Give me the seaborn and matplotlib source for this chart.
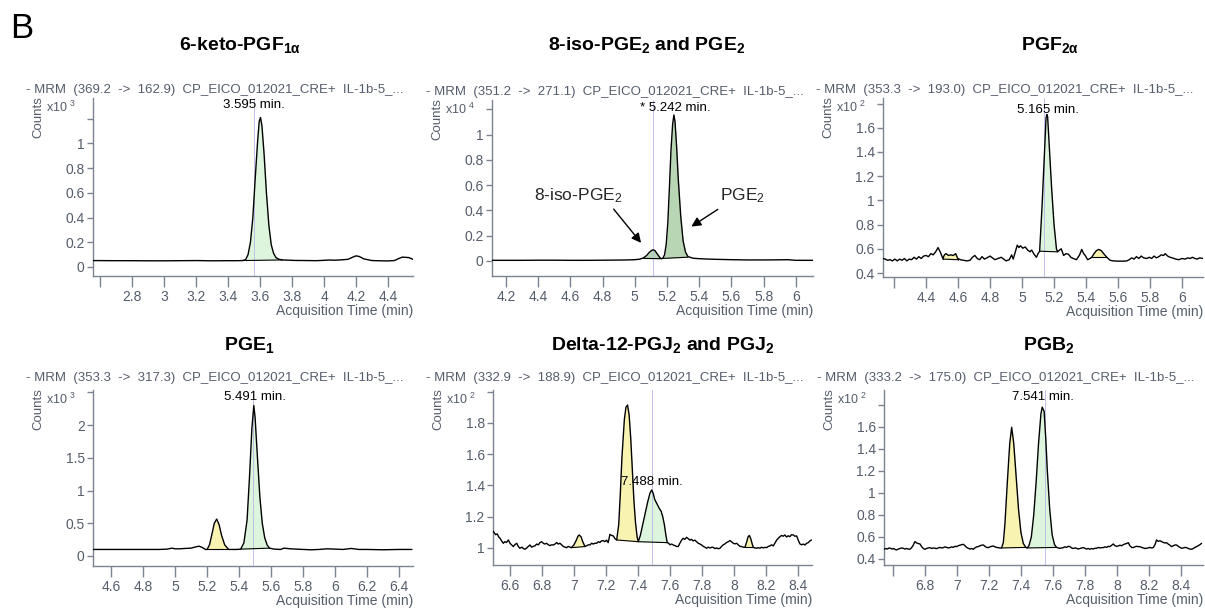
import numpy as np
import matplotlib
matplotlib.use("Agg")
import matplotlib.pyplot as plt
import seaborn as sns

# ---------------- DATA ----------------
titles = [r"6-keto-PGF$_{\mathbf{1α}}$",
          r"8-iso-PGE$_{\mathbf{2}}$ and PGE$_{\mathbf{2}}$",
          r"PGF$_{\mathbf{2α}}$",
          r"PGE$_{\mathbf{1}}$",
          r"Delta-12-PGJ$_{\mathbf{2}}$ and PGJ$_{\mathbf{2}}$",
          r"PGB$_{\mathbf{2}}$"]
headers = ["- MRM  (369.2  ->  162.9)  CP_EICO_012021_CRE+  IL-1b-5_...",
           "- MRM  (351.2  ->  271.1)  CP_EICO_012021_CRE+  IL-1b-5_...",
           "- MRM  (353.3  ->  193.0)  CP_EICO_012021_CRE+  IL-1b-5_...",
           "- MRM  (353.3  ->  317.3)  CP_EICO_012021_CRE+  IL-1b-5_...",
           "- MRM  (332.9  ->  188.9)  CP_EICO_012021_CRE+  IL-1b-5_...",
           "- MRM  (333.2  ->  175.0)  CP_EICO_012021_CRE+  IL-1b-5_..."]
exponents = [3, 4, 2, 3, 2, 2]
rt_labels = ["3.595 min.", "* 5.242 min.", "5.165 min.", "5.491 min.", "7.488 min.", "7.541 min."]
rt_marker = [3.56, 5.11, 5.135, 5.49, 7.49, 7.55]
rt_label_pos = [(3.56, 1.31), (5.25, 1.21), (5.16, 1.75), (5.50, 2.43), (7.49, 1.42), (7.54, 1.87)]

p1_time = [2.55, 2.7, 2.8, 2.9, 3.0, 3.1, 3.2, 3.3, 3.4, 3.46, 3.49, 3.51, 3.525, 3.54, 3.555, 3.57,
           3.585, 3.595, 3.603, 3.612, 3.625, 3.64, 3.655, 3.67, 3.685, 3.70, 3.72, 3.74, 3.78, 3.82,
           3.9, 3.95, 4.0, 4.03, 4.07, 4.1, 4.15, 4.18, 4.2, 4.22, 4.25, 4.3, 4.35, 4.4, 4.44, 4.47,
           4.49, 4.51, 4.53, 4.55, 4.56]
p1_counts = [0.052, 0.051, 0.051, 0.050, 0.050, 0.051, 0.052, 0.050, 0.051, 0.051, 0.052, 0.06, 0.10,
             0.20, 0.40, 0.72, 1.02, 1.18, 1.21, 1.14, 0.92, 0.60, 0.34, 0.18, 0.11, 0.075, 0.062, 0.057,
             0.055, 0.053, 0.052, 0.051, 0.054, 0.056, 0.055, 0.057, 0.062, 0.08, 0.09, 0.085, 0.065,
             0.052, 0.050, 0.049, 0.052, 0.07, 0.08, 0.078, 0.076, 0.065, 0.058]

p2_time = [4.11, 4.2, 4.3, 4.4, 4.5, 4.6, 4.7, 4.8, 4.9, 4.95, 5.0, 5.03, 5.055, 5.075, 5.09, 5.105,
           5.115, 5.125, 5.14, 5.155, 5.165, 5.175, 5.185, 5.195, 5.205, 5.215, 5.225, 5.235, 5.243,
           5.25, 5.26, 5.27, 5.285, 5.30, 5.315, 5.33, 5.36, 5.4, 5.45, 5.5, 5.6, 5.7, 5.8, 5.9, 5.95,
           6.0, 6.11]
p2_counts = [0.005, 0.005, 0.005, 0.006, 0.006, 0.005, 0.005, 0.006, 0.007, 0.008, 0.010, 0.014,
             0.025, 0.045, 0.068, 0.084, 0.088, 0.082, 0.055, 0.028, 0.018, 0.022, 0.05, 0.13, 0.30,
             0.58, 0.88, 1.08, 1.155, 1.10, 0.90, 0.65, 0.36, 0.16, 0.07, 0.035, 0.022, 0.018, 0.015,
             0.013, 0.010, 0.008, 0.008, 0.009, 0.010, 0.005, 0.005]

p3_time = [4.13, 4.145, 4.16, 4.175, 4.19, 4.205, 4.22, 4.235, 4.25, 4.265, 4.28, 4.295, 4.31, 4.325,
           4.34, 4.355, 4.37, 4.385, 4.40, 4.415, 4.43, 4.445, 4.46, 4.475, 4.49, 4.505, 4.515, 4.525,
           4.54, 4.555, 4.57, 4.585, 4.598, 4.615, 4.635, 4.655, 4.675, 4.69, 4.705, 4.72, 4.735, 4.75,
           4.765, 4.78, 4.80, 4.815, 4.83, 4.85, 4.87, 4.885, 4.90, 4.92, 4.935, 4.945, 4.955, 4.97,
           4.98, 4.99, 5.005, 5.02, 5.035, 5.05, 5.06, 5.075, 5.09, 5.10, 5.11, 5.125, 5.14, 5.15,
           5.155, 5.16, 5.17, 5.185, 5.20, 5.215, 5.222, 5.235, 5.245, 5.26, 5.275, 5.29, 5.305, 5.32,
           5.34, 5.36, 5.373, 5.385, 5.395, 5.41, 5.425, 5.436, 5.45, 5.465, 5.48, 5.495, 5.51, 5.53,
           5.55, 5.57, 5.60, 5.63, 5.655, 5.67, 5.685, 5.70, 5.715, 5.73, 5.745, 5.76, 5.78, 5.795,
           5.81, 5.825, 5.84, 5.855, 5.87, 5.885, 5.895, 5.91, 5.925, 5.94, 5.96, 5.98, 6.0, 6.02,
           6.035, 6.05, 6.065, 6.08, 6.095, 6.11, 6.13]
p3_counts = [0.52, 0.515, 0.505, 0.51, 0.50, 0.515, 0.50, 0.515, 0.505, 0.52, 0.50, 0.515, 0.51, 0.53,
             0.515, 0.535, 0.52, 0.54, 0.545, 0.535, 0.56, 0.55, 0.575, 0.61, 0.57, 0.52, 0.55, 0.56,
             0.545, 0.55, 0.545, 0.56, 0.52, 0.51, 0.505, 0.50, 0.505, 0.53, 0.545, 0.52, 0.51, 0.535,
             0.515, 0.525, 0.54, 0.525, 0.51, 0.52, 0.53, 0.515, 0.50, 0.51, 0.55, 0.515, 0.56, 0.63,
             0.61, 0.625, 0.605, 0.615, 0.59, 0.575, 0.59, 0.555, 0.53, 0.56, 0.58, 0.95, 1.40, 1.68,
             1.71, 1.69, 1.45, 1.10, 0.80, 0.60, 0.575, 0.59, 0.60, 0.545, 0.56, 0.555, 0.53, 0.52,
             0.51, 0.55, 0.595, 0.56, 0.545, 0.51, 0.52, 0.53, 0.56, 0.585, 0.595, 0.585, 0.56, 0.53,
             0.505, 0.50, 0.498, 0.498, 0.50, 0.51, 0.525, 0.515, 0.535, 0.52, 0.54, 0.525, 0.52, 0.53,
             0.52, 0.54, 0.525, 0.535, 0.55, 0.545, 0.56, 0.54, 0.53, 0.525, 0.515, 0.51, 0.52, 0.515,
             0.525, 0.52, 0.53, 0.52, 0.515, 0.525, 0.52]

p4_time = [4.49, 4.6, 4.7, 4.8, 4.9, 4.95, 4.98, 5.0, 5.03, 5.06, 5.1, 5.13, 5.15, 5.17, 5.19, 5.20,
           5.215, 5.23, 5.245, 5.26, 5.275, 5.29, 5.31, 5.335, 5.36, 5.385, 5.41, 5.43, 5.45, 5.465,
           5.48, 5.492, 5.50, 5.515, 5.53, 5.545, 5.56, 5.575, 5.59, 5.62, 5.66, 5.68, 5.72, 5.76,
           5.8, 5.85, 5.9, 5.95, 6.0, 6.05, 6.1, 6.15, 6.2, 6.3, 6.4, 6.48]
p4_counts = [0.10, 0.10, 0.10, 0.10, 0.10, 0.105, 0.12, 0.11, 0.11, 0.115, 0.12, 0.14, 0.15, 0.13,
             0.10, 0.10, 0.17, 0.33, 0.50, 0.565, 0.48, 0.32, 0.17, 0.10, 0.10, 0.10, 0.105, 0.20, 0.55,
             1.20, 1.95, 2.30, 2.12, 1.50, 0.90, 0.50, 0.28, 0.17, 0.12, 0.105, 0.10, 0.12, 0.11,
             0.105, 0.10, 0.095, 0.10, 0.11, 0.105, 0.10, 0.115, 0.10, 0.10, 0.095, 0.10, 0.10]

p5_time = [6.492, 6.50, 6.51, 6.52, 6.53, 6.538, 6.548, 6.558, 6.568, 6.578, 6.59, 6.60, 6.61, 6.621,
           6.63, 6.642, 6.652, 6.662, 6.675, 6.685, 6.694, 6.705, 6.715, 6.725, 6.735, 6.745, 6.756,
           6.767, 6.778, 6.788, 6.798, 6.808, 6.818, 6.829, 6.84, 6.85, 6.86, 6.871, 6.882, 6.892,
           6.902, 6.9125, 6.923, 6.933, 6.944, 6.954, 6.965, 6.975, 6.985, 7.00, 7.015, 7.025, 7.033,
           7.045, 7.055, 7.069, 7.08, 7.09, 7.10, 7.11, 7.12, 7.131, 7.142, 7.152, 7.162, 7.172,
           7.183, 7.193, 7.204, 7.214, 7.225, 7.235, 7.246, 7.256, 7.267, 7.28, 7.29, 7.30, 7.315,
           7.325, 7.335, 7.345, 7.355, 7.365, 7.375, 7.385, 7.395, 7.402, 7.415, 7.43, 7.445, 7.46,
           7.475, 7.486, 7.495, 7.505, 7.515, 7.525, 7.535, 7.545, 7.555, 7.565, 7.575, 7.583, 7.592,
           7.60, 7.61, 7.621, 7.631, 7.642, 7.652, 7.662, 7.673, 7.683, 7.693, 7.704, 7.714, 7.725,
           7.735, 7.745, 7.756, 7.767, 7.777, 7.788, 7.798, 7.808, 7.819, 7.829, 7.84, 7.85, 7.86,
           7.871, 7.881, 7.892, 7.902, 7.9125, 7.923, 7.933, 7.944, 7.954, 7.965, 7.975, 7.985, 7.996,
           8.006, 8.017, 8.027, 8.038, 8.048, 8.058, 8.069, 8.08, 8.088, 8.096, 8.105, 8.113, 8.121,
           8.131, 8.142, 8.152, 8.1625, 8.173, 8.183, 8.194, 8.204, 8.215, 8.225, 8.235, 8.246, 8.256,
           8.267, 8.277, 8.2875, 8.298, 8.308, 8.319, 8.329, 8.34, 8.35, 8.36, 8.371, 8.381, 8.392,
           8.402, 8.4125, 8.423, 8.433, 8.444, 8.454, 8.465, 8.475, 8.485]
p5_counts = [1.111, 1.10, 1.085, 1.09, 1.07, 1.062, 1.045, 1.03, 1.04, 1.035, 1.051, 1.03, 1.02, 1.009,
             1.02, 1.03, 1.01, 0.998, 1.005, 0.995, 0.992, 1.0, 1.01, 1.019, 1.005, 1.01, 1.013, 1.025,
             1.02, 1.035, 1.04, 1.03, 1.025, 1.03, 1.02, 1.015, 1.02, 1.019, 1.025, 1.035, 1.025, 1.03,
             1.02, 1.01, 1.005, 1.002, 1.01, 1.005, 1.002, 1.02, 1.05, 1.075, 1.083, 1.07, 1.04, 1.009,
             1.015, 1.02, 1.019, 1.03, 1.025, 1.03, 1.03, 1.04, 1.035, 1.045, 1.047, 1.04, 1.05, 1.034,
             1.087, 1.08, 1.077, 1.06, 1.051, 1.15, 1.35, 1.58, 1.82, 1.90, 1.914, 1.85, 1.70, 1.50, 1.30,
             1.16, 1.07, 1.040, 1.08, 1.15, 1.22, 1.29, 1.35, 1.371, 1.35, 1.31, 1.29, 1.27, 1.25, 1.235,
             1.20, 1.15, 1.08, 1.034, 1.03, 1.02, 1.025, 1.019, 1.015, 1.01, 1.009, 1.03, 1.05, 1.062,
             1.055, 1.068, 1.06, 1.05, 1.055, 1.045, 1.05, 1.04, 1.03, 1.025, 1.019, 1.01, 1.005, 0.998,
             1.005, 1.0, 1.004, 1.004, 0.996, 1.0, 0.995, 0.998, 1.01, 1.02, 1.026, 1.035, 1.04, 1.047,
             1.04, 1.03, 1.026, 1.03, 1.02, 1.01, 1.009, 1.005, 1.004, 1.04, 1.07, 1.08, 1.06, 1.03,
             1.004, 1.0, 0.998, 1.002, 0.998, 1.005, 1.0, 1.004, 1.002, 1.01, 1.013, 1.02, 1.013, 1.03,
             1.05, 1.062, 1.072, 1.08, 1.075, 1.083, 1.07, 1.078, 1.072, 1.085, 1.083, 1.075, 1.077,
             1.05, 1.026, 1.02, 1.025, 1.019, 1.03, 1.034, 1.045, 1.051]

p6_time = [6.544, 6.555, 6.565, 6.575, 6.585, 6.595, 6.605, 6.615, 6.623, 6.633, 6.643, 6.654, 6.664,
           6.675, 6.685, 6.696, 6.706, 6.715, 6.725, 6.7375, 6.748, 6.758, 6.769, 6.78, 6.79, 6.80,
           6.81, 6.82, 6.831, 6.842, 6.852, 6.862, 6.873, 6.883, 6.894, 6.904, 6.915, 6.925, 6.935,
           6.946, 6.956, 6.967, 6.977, 6.988, 6.998, 7.008, 7.019, 7.029, 7.04, 7.05, 7.06, 7.071,
           7.081, 7.092, 7.102, 7.112, 7.123, 7.133, 7.144, 7.154, 7.165, 7.175, 7.185, 7.196, 7.206,
           7.217, 7.227, 7.238, 7.248, 7.258, 7.268, 7.279, 7.29, 7.30, 7.315, 7.33, 7.342, 7.355,
           7.37, 7.385, 7.40, 7.415, 7.431, 7.439, 7.45, 7.465, 7.48, 7.495, 7.51, 7.525, 7.533,
           7.545, 7.555, 7.565, 7.58, 7.595, 7.61, 7.623, 7.633, 7.644, 7.654, 7.665, 7.675, 7.685,
           7.696, 7.706, 7.717, 7.727, 7.738, 7.748, 7.758, 7.769, 7.779, 7.79, 7.8, 7.81, 7.821,
           7.831, 7.842, 7.852, 7.862, 7.873, 7.883, 7.894, 7.904, 7.915, 7.925, 7.935, 7.946, 7.956,
           7.967, 7.977, 7.988, 7.998, 8.008, 8.019, 8.029, 8.04, 8.05, 8.06, 8.071, 8.081, 8.092,
           8.102, 8.112, 8.123, 8.133, 8.144, 8.154, 8.165, 8.175, 8.185, 8.196, 8.206, 8.217, 8.227,
           8.238, 8.248, 8.258, 8.269, 8.279, 8.29, 8.3, 8.31, 8.321, 8.331, 8.342, 8.352, 8.363,
           8.373, 8.383, 8.394, 8.404, 8.415, 8.425, 8.435, 8.446, 8.456, 8.467, 8.477, 8.488, 8.498,
           8.508, 8.519, 8.529]
p6_counts = [0.488, 0.495, 0.49, 0.50, 0.497, 0.49, 0.495, 0.485, 0.482, 0.49, 0.495, 0.50, 0.497,
             0.49, 0.495, 0.49, 0.488, 0.50, 0.52, 0.558, 0.545, 0.54, 0.536, 0.51, 0.495, 0.488, 0.495,
             0.50, 0.503, 0.495, 0.50, 0.497, 0.494, 0.50, 0.505, 0.50, 0.503, 0.51, 0.505, 0.50, 0.503,
             0.51, 0.505, 0.515, 0.512, 0.52, 0.525, 0.53, 0.533, 0.52, 0.505, 0.497, 0.49, 0.495,
             0.488, 0.50, 0.51, 0.512, 0.52, 0.525, 0.527, 0.515, 0.505, 0.503, 0.51, 0.515, 0.518,
             0.51, 0.505, 0.503, 0.50, 0.50, 0.55, 0.72, 1.10, 1.45, 1.597, 1.45, 1.15, 0.85, 0.64,
             0.54, 0.505, 0.50, 0.52, 0.60, 0.80, 1.10, 1.45, 1.72, 1.78, 1.74, 1.50, 1.20, 0.85, 0.62,
             0.53, 0.505, 0.50, 0.497, 0.50, 0.503, 0.51, 0.505, 0.515, 0.512, 0.50, 0.495, 0.50,
             0.497, 0.49, 0.495, 0.50, 0.503, 0.497, 0.49, 0.495, 0.488, 0.495, 0.49, 0.497, 0.497,
             0.505, 0.50, 0.503, 0.503, 0.51, 0.505, 0.515, 0.512, 0.525, 0.536, 0.52, 0.515, 0.518,
             0.525, 0.52, 0.53, 0.536, 0.54, 0.548, 0.52, 0.505, 0.503, 0.51, 0.515, 0.512, 0.512,
             0.505, 0.50, 0.495, 0.497, 0.50, 0.505, 0.50, 0.503, 0.53, 0.573, 0.56, 0.565, 0.558,
             0.55, 0.545, 0.548, 0.535, 0.525, 0.512, 0.52, 0.527, 0.527, 0.515, 0.505, 0.497, 0.50,
             0.505, 0.503, 0.495, 0.49, 0.488, 0.495, 0.505, 0.512, 0.52, 0.53, 0.542]

# integrated peaks: (start, end, baseline at start, baseline at end, kind)
p1_peaks = [(3.49, 3.74, 0.052, 0.057, "green")]
p2_peaks = [(5.055, 5.165, 0.02, 0.018, "dark"), (5.175, 5.33, 0.02, 0.03, "dark")]
p3_peaks = [(4.505, 4.598, 0.515, 0.51, "yellow"), (5.11, 5.222, 0.58, 0.575, "green"),
            (5.436, 5.53, 0.53, 0.53, "yellow")]
p4_peaks = [(5.20, 5.335, 0.10, 0.10, "yellow"), (5.41, 5.59, 0.105, 0.12, "green")]
p5_peaks = [(6.985, 7.069, 1.002, 1.009, "yellow"), (7.267, 7.402, 1.051, 1.040, "yellow"),
            (7.402, 7.583, 1.040, 1.034, "green"), (8.069, 8.121, 1.004, 1.004, "yellow")]
p6_peaks = [(7.279, 7.431, 0.50, 0.505, "yellow"), (7.439, 7.623, 0.50, 0.505, "green")]

p1_xticks = [2.6, 2.8, 3.0, 3.2, 3.4, 3.6, 3.8, 4.0, 4.2, 4.4]
p2_xticks = [4.2, 4.4, 4.6, 4.8, 5.0, 5.2, 5.4, 5.6, 5.8, 6.0]
p3_xticks = [4.2, 4.4, 4.6, 4.8, 5.0, 5.2, 5.4, 5.6, 5.8, 6.0]
p4_xticks = [4.6, 4.8, 5.0, 5.2, 5.4, 5.6, 5.8, 6.0, 6.2, 6.4]
p5_xticks = [6.6, 6.8, 7.0, 7.2, 7.4, 7.6, 7.8, 8.0, 8.2, 8.4]
p6_xticks = [6.6, 6.8, 7.0, 7.2, 7.4, 7.6, 7.8, 8.0, 8.2, 8.4]
p1_yticks = [0, 0.2, 0.4, 0.6, 0.8, 1.0, 1.2]
p2_yticks = [0, 0.2, 0.4, 0.6, 0.8, 1.0, 1.2]
p3_yticks = [0.4, 0.6, 0.8, 1.0, 1.2, 1.4, 1.6, 1.8]
p4_yticks = [0, 0.5, 1.0, 1.5, 2.0, 2.5]
p5_yticks = [1.0, 1.2, 1.4, 1.6, 1.8, 2.0]
p6_yticks = [0.4, 0.6, 0.8, 1.0, 1.2, 1.4, 1.6, 1.8]
unlabeled_xtick = [2.6, None, 4.2, None, None, 6.6]

# ---------------- LAYOUT / STYLE ----------------
W, H = 1205, 608
axes_px = [(93, 98, 413, 276), (492, 100, 813, 276), (883, 98, 1203, 277),
           (93, 390, 413, 566), (493, 390, 812, 565), (884, 390, 1203, 565)]
xlims = [(2.556, 4.556), (4.113, 6.107), (4.131, 6.131), (4.487, 6.487), (6.494, 8.488), (6.544, 8.538)]
ylims = [(-0.073, 1.368), (-0.119, 1.273), (0.367, 1.846), (-0.153, 2.538), (0.891, 2.01), (0.345, 1.936)]
title_px = [(240, 45), (647, 45), (1050, 45), (249, 345), (663, 345), (1049, 345)]

GREY = "#555d6b"
SPINE = "#7d8491"
FILLS = {"green": "#dcf5dc", "dark": "#b9d6b4", "yellow": "#f8f3b0"}

sns.set_style("ticks")
plt.rcParams["font.family"] = ["Liberation Sans", "DejaVu Sans"]
plt.rcParams["mathtext.fontset"] = "custom"
plt.rcParams["mathtext.rm"] = "Liberation Sans"
plt.rcParams["mathtext.it"] = "Liberation Sans:italic"
plt.rcParams["mathtext.bf"] = "Liberation Sans:bold"

fig = plt.figure(figsize=(W / 100, H / 100), dpi=100)
fig.text(10 / W, 1 - 38 / H, "B", fontsize=25, ha="left", va="baseline", color="black")

times = [p1_time, p2_time, p3_time, p4_time, p5_time, p6_time]
counts = [p1_counts, p2_counts, p3_counts, p4_counts, p5_counts, p6_counts]
peaks = [p1_peaks, p2_peaks, p3_peaks, p4_peaks, p5_peaks, p6_peaks]
xticks = [p1_xticks, p2_xticks, p3_xticks, p4_xticks, p5_xticks, p6_xticks]
yticks = [p1_yticks, p2_yticks, p3_yticks, p4_yticks, p5_yticks, p6_yticks]

for i in range(6):
    l, t, r, b = axes_px[i]
    ax = fig.add_axes([l / W, 1 - b / H, (r - l) / W, (b - t) / H])
    x = np.array(times[i])
    y = np.array(counts[i])

    for (s, e, bs, be, kind) in peaks[i]:
        m = (x >= s) & (x <= e)
        xs = x[m]
        base = bs + (be - bs) * (xs - s) / (e - s)
        ax.fill_between(xs, base, y[m], color=FILLS[kind], lw=0, zorder=1)
        ax.plot([xs[0], xs[-1]], [base[0], base[-1]], color="black", lw=0.8, zorder=3)
        ax.plot([xs[0], xs[0]], [base[0], y[m][0]], color="black", lw=0.6, zorder=3)
        ax.plot([xs[-1], xs[-1]], [base[-1], y[m][-1]], color="black", lw=0.6, zorder=3)

    ax.axvline(rt_marker[i], color="#b6b6e6", lw=0.6, zorder=2)
    sns.lineplot(x=x, y=y, ax=ax, color="black", linewidth=1.0, sort=False,
                 estimator=None, zorder=4)

    ax.set_xlim(*xlims[i])
    ax.set_ylim(*ylims[i])
    ax.set_xlabel("")
    ax.set_ylabel("")
    for sp in ["top", "right"]:
        ax.spines[sp].set_visible(False)
    for sp in ["left", "bottom"]:
        ax.spines[sp].set_color(SPINE)
        ax.spines[sp].set_linewidth(1.0)

    ax.set_xticks(xticks[i])
    ax.set_xticklabels(["" if v == unlabeled_xtick[i] else "%g" % v for v in xticks[i]])
    ax.set_yticks(yticks[i])
    ax.set_yticklabels(["%g" % v for v in yticks[i][:-1]] + [""])
    ax.tick_params(axis="x", length=8, width=1, color=SPINE, labelcolor=GREY, labelsize=10, pad=2)
    ax.tick_params(axis="y", length=4, width=1, color=SPINE, labelcolor=GREY, labelsize=10, pad=2)

    # exponent, axis titles, header
    ax.annotate("x10 $^{%d}$" % exponents[i], xy=(0, 1), xycoords="axes fraction",
                xytext=(-17, -9), textcoords="offset pixels", ha="right", va="center",
                fontsize=9, color=GREY)
    ax.annotate("Counts", xy=(0, 1), xycoords="axes fraction", xytext=(-55, 2),
                textcoords="offset pixels", ha="center", va="top", rotation=90,
                fontsize=9.5, color=GREY)
    ax.annotate("Acquisition Time (min)", xy=(1, 0), xycoords="axes fraction",
                xytext=(0, -35), textcoords="offset pixels", ha="right", va="center",
                fontsize=10, color=GREY)
    ax.annotate(headers[i], xy=(0.5, 1), xycoords="axes fraction",
                xytext=(-38, 8 if i < 3 else 12), textcoords="offset pixels", ha="center",
                va="center", fontsize=9.5, color=GREY)
    ax.text(rt_label_pos[i][0], rt_label_pos[i][1], rt_labels[i], ha="center", va="center",
            fontsize=9.5, color="black", zorder=6)

    tx, ty = title_px[i]
    fig.text(tx / W, 1 - ty / H, titles[i], ha="center", va="center", fontsize=14,
             fontweight="bold", color="black")

    if i == 1:
        ax.annotate("", xy=(5.05, 0.126), xytext=(4.858, 0.427),
                    arrowprops=dict(arrowstyle="-|>", color="black", lw=1.0, mutation_scale=14))
        ax.text(4.647, 0.52, r"8-iso-PGE$_2$", ha="center", va="center", fontsize=12.5)
        ax.annotate("", xy=(5.337, 0.26), xytext=(5.53, 0.42),
                    arrowprops=dict(arrowstyle="-|>", color="black", lw=1.0, mutation_scale=14))
        ax.text(5.666, 0.52, r"PGE$_2$", ha="center", va="center", fontsize=12.5)

fig.savefig("out.png", dpi=100)
